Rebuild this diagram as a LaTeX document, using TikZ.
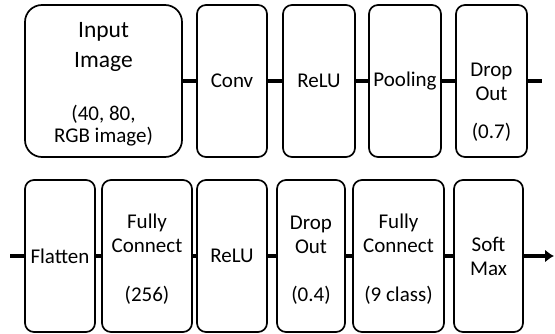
\documentclass[tikz,border=0pt]{standalone}
\usepackage{fontspec}
\setmainfont{Carlito}
\usetikzlibrary{arrows.meta, positioning}

\begin{document}
\begin{tikzpicture}[x=1pt, y=-1pt,
  blk/.style={draw=black, line width=1.7pt, rounded corners=9pt,
              minimum height=152pt, inner sep=0pt},
  lbl/.style={inner sep=0pt, align=center, font=\fontsize{21}{24}\selectfont},
  link/.style={draw=black, line width=3.5pt}]

\useasboundingbox (0,0) rectangle (555,334);

% Row 1: input image and feature layers
\node[blk, rounded corners=17pt, minimum width=157pt] (inp) at (103.5,81) {};
\node[lbl, font=\fontsize{23.5}{30}\selectfont] (inp-name) at (103.5,47) {Input\\Image};
\node[lbl, font=\fontsize{21}{22}\selectfont] (inp-par) at (103.5,126) {(40, 80,\\RGB image)};

\node[blk, minimum width=70pt] (conv) at (232,81) {};
\node[lbl] (conv-name) at (conv.center) {Conv};

\node[blk, minimum width=72pt] (relu1) at (319,81) {};
\node[lbl] (relu1-name) at (relu1.center) {ReLU};

\node[blk, minimum width=72pt] (pool) at (405,81) {};
\node[lbl] (pool-name) at (pool.center) {Pooling};

\node[blk, minimum width=71pt] (drop1) at (491.5,81) {};
\node[lbl] (drop1-name) at (491.5,82) {Drop\\Out};
\node[lbl] (drop1-par) at (491.5,132) {(0.7)};

\draw[link] (inp.east) -- (conv.west);
\draw[link] (conv.east) -- (relu1.west);
\draw[link] (relu1.east) -- (pool.west);
\draw[link] (pool.east) -- (drop1.west);
\coordinate (out1) at (542,81);
\draw[link] (drop1.east) -- (out1);

% Row 2: classifier layers
\coordinate (in2) at (10,256);

\node[blk, minimum width=70pt] (flat) at (60,256) {};
\node[lbl] (flat-name) at (flat.center) {Flatten};

\node[blk, minimum width=90pt] (fc1) at (147,256) {};
\node[lbl] (fc1-name) at (147,233.5) {Fully\\Connect};
\node[lbl] (fc1-par) at (147,295.5) {(256)};

\node[blk, minimum width=70pt] (relu2) at (232,256) {};
\node[lbl] (relu2-name) at (relu2.center) {ReLU};

\node[blk, minimum width=68pt] (drop2) at (311,256) {};
\node[lbl] (drop2-name) at (311,234.5) {Drop\\Out};
\node[lbl] (drop2-par) at (311,295.5) {(0.4)};

\node[blk, minimum width=91pt] (fc2) at (398.5,256) {};
\node[lbl] (fc2-name) at (398.5,233.5) {Fully\\Connect};
\node[lbl] (fc2-par) at (398.5,295.5) {(9 class)};

\node[blk, minimum width=69pt] (soft) at (488.5,256) {};
\node[lbl] (soft-name) at (soft.center) {Soft\\Max};

\draw[link] (in2) -- (flat.west);
\draw[link] (flat.east) -- (fc1.west);
\draw[link] (fc1.east) -- (relu2.west);
\draw[link] (relu2.east) -- (drop2.west);
\draw[link] (drop2.east) -- (fc2.west);
\draw[link] (fc2.east) -- (soft.west);
\coordinate (out2) at (554,256);
\draw[link, -{Latex[length=9pt,width=13pt]}] (soft.east) -- (out2);

\end{tikzpicture}
\end{document}
